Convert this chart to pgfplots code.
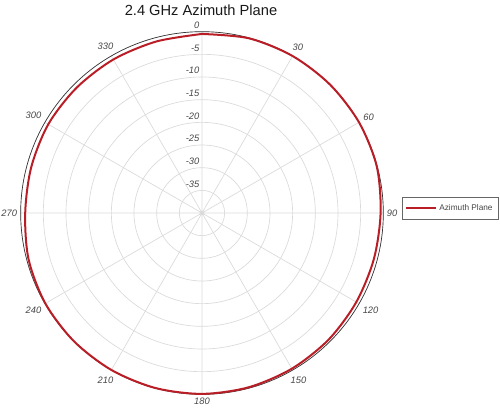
\documentclass[border=0pt]{standalone}
\usepackage{fontspec}
\setmainfont{Liberation Sans}
\usepackage{pgfplots}
\usepackage{pgfplotstable}
\pgfplotsset{compat=1.18}
\usepgfplotslibrary{polar}

\definecolor{patred}{RGB}{185,30,38}
\definecolor{gridgray}{RGB}{218,218,218}
\definecolor{labelgray}{RGB}{70,70,70}

% azimuth (deg, clockwise from top) / gain (dB)
\pgfplotstableread{
az   db
0    -0.50
15   -0.10
30   -0.02
45    0.00
60    0.00
75   -0.10
90   -0.60
105  -0.75
120  -0.70
135  -0.50
150  -0.35
165  -0.20
180  -0.10
195  -0.05
210  -0.02
225  -0.02
240  -0.10
255  -0.40
270  -1.00
285  -1.00
300  -0.85
315  -0.90
330  -0.90
345  -0.85
360  -0.50
}\azimuth

\tikzset{rlabel/.style={anchor=south east, inner sep=1pt, yshift=1pt, xshift=-0.8pt,
    text=labelgray, font=\itshape\fontsize{7}{8}\selectfont}}

\begin{document}
\begin{tikzpicture}
\begin{polaraxis}[
    at={(0pt,0pt)}, anchor=center,
    width=272pt, height=272pt, scale only axis,
    xmin=0, xmax=360,
    ymin=0, ymax=40,
    xtick={0,30,...,330},
    % screen angle -> azimuth label (0 at top, clockwise)
    xticklabels={90,60,30,,330,300,270,240,210,180,150,120},
    ytick={5,10,...,40},
    yticklabels={},
    xticklabel style={font=\itshape\fontsize{7}{8}\selectfont, text=labelgray, inner sep=2.5pt},
    major tick length=0pt,
    grid=both,
    major grid style={gridgray, line width=0.5pt},
    axis line style={black!80, line width=0.5pt},
    y axis line style={draw=none},
    clip=false,
    legend style={at={(axis description cs:1.0525,0.5125)}, anchor=west,
        draw=black!60, line width=0.4pt, text=labelgray,
        font=\fontsize{6.2}{7}\selectfont,
        inner xsep=2pt, inner ysep=3.2pt, cells={anchor=west}},
    legend image code/.code={\draw[#1] (0pt,0pt) -- (22pt,0pt);},
]
\addplot[patred, line width=1.5pt, smooth, tension=0.5]
    table[x expr={90-\thisrow{az}}, y expr={\thisrow{db}+40}] {\azimuth};
\addlegendentry{Azimuth Plane}

\node[rlabel] at (axis cs:90,40) {0};
\node[rlabel] at (axis cs:90,35) {-5};
\node[rlabel] at (axis cs:90,30) {-10};
\node[rlabel] at (axis cs:90,25) {-15};
\node[rlabel] at (axis cs:90,20) {-20};
\node[rlabel] at (axis cs:90,15) {-25};
\node[rlabel] at (axis cs:90,10) {-30};
\node[rlabel] at (axis cs:90,5) {-35};
\end{polaraxis}

\node[anchor=base, font=\fontsize{11}{13}\selectfont, text=black!90] at (-0.75pt,148.5pt) {2.4 GHz Azimuth Plane};

\pgfresetboundingbox
\path[use as bounding box] (-151.5pt,-151.5pt) rectangle (223.5pt,159.75pt);
\end{tikzpicture}
\end{document}
